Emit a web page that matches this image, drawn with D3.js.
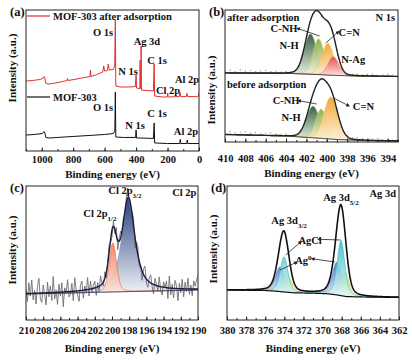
<!DOCTYPE html>
<html lang="en">
<head>
<meta charset="UTF-8">
<title>XPS spectra of MOF-303</title>
<style>
  body { margin: 0; background: #fff; }
  svg text { font-family: "Liberation Serif", serif; font-weight: bold; fill: #111; }
  .frame { fill: none; stroke: #222; stroke-width: 1; }
  .axis path { display: none; }
  .axis line { stroke: #222; }
  .axis text { font-size: 10.5px; }
  .lbl { font-size: 10.5px; }
  .title { font-size: 11px; }
  .tag { font-size: 12.5px; }
</style>
<script src="https://d3js.org/d3.v7.min.js"></script>
</head>
<body>
<script>
// ---- (a) survey spectra: binding energy (eV) / intensity (a.u.)
const surveyAfterBE = [1100,1060,1010,990,985,980,976,960,930,880,840,836,832,780,730,693,690,687,650,612,606,600,582,577,571,545,536,532,529,500,450,405,400,397,380,375.5,374.5,373,369,368,366,330,290,285,282,230,201,199,196,125,120,116,80,76,72,20,8,2,0];
const surveyAfterI = [49.6,50.0,50.7,51.8,52.8,52.1,48.2,47.5,47.9,48.9,50.0,51.4,50.0,51.0,52.1,52.8,57.4,52.8,54.2,56.0,60.3,56.7,57.1,61.7,57.4,57.8,60.3,92.9,46.1,45.4,45.4,45.7,53.9,44.7,44.3,44.3,64.5,44.7,44.3,74.4,43.2,42.9,42.5,61.7,39.0,38.3,38.3,41.1,38.3,38.6,41.5,38.6,38.6,40.8,38.6,38.6,38.3,39.7,41.8];
const surveyBeforeBE = [1100,1050,995,986,980,974,950,900,800,700,600,545,535,532,529,480,403,400,397,380,290,285,282,200,122,119,116,78,75,72,0];
const surveyBeforeI = [11.3,11.7,12.4,13.8,12.8,9.6,9.2,9.6,10.3,11.0,11.7,12.4,14.2,41.8,9.9,9.6,9.6,14.9,9.2,9.2,8.9,19.9,5.7,5.3,5.3,8.2,5.3,5.3,7.8,5.3,5.3];
const surveyAfterPeaks = ["O 1s", "Ag 3d", "N 1s", "C 1s", "Al 2p", "Cl 2p"];
const surveyAfterPeakBE = [610, 331, 451, 267, 76, 197];
const surveyAfterPeakI = [84.4, 78.0, 56.7, 64.5, 51.0, 43.2];
const surveyBeforePeaks = ["O 1s", "C 1s", "N 1s", "Al 2p"];
const surveyBeforePeakBE = [610, 267, 407, 83];
const surveyBeforePeakI = [31.2, 26.9, 18.4, 14.2];

// ---- (b) N 1s fits
const n1sNames = ["N-H", "C-NH", "C=N", "N-Ag"];
const n1sAfterCentre = [401.6, 400.8, 399.9, 399.35];
const n1sAfterHeight = [30.5, 27.0, 24.0, 14.0];
const n1sAfterFwhm = [1.45, 1.3, 1.35, 1.25];
const n1sAfterBgBE = [410, 403.5, 401, 399, 397, 393];
const n1sAfterBgI = [52.3, 51.9, 51.1, 50.4, 50.0, 49.6];
const n1sBeforeCentre = [401.35, 400.55, 399.6];
const n1sBeforeHeight = [23.9, 22.0, 31.8];
const n1sBeforeFwhm = [1.5, 1.3, 1.6];
const n1sBeforeBgBE = [410, 404, 401, 399, 396, 393];
const n1sBeforeBgI = [5.7, 4.5, 3.0, 1.9, 1.1, 0.8];
// raw-data residuals, 410 -> 393 eV every 0.5 eV
const n1sAfterResid = [1.5,2,1,2.5,1.5,2,1,1.5,2,1,1.5,0.5,1,0.5,0,0.5,-0.5,0.5,0,-0.5,0.5,0,0.5,-0.5,0,0.5,1,0.5,1,1.5,0.5,1,1.5,1,0.5];
const n1sBeforeResid = [2,2.5,1.5,2,2.5,1.5,2,1,1.5,2,1,0.5,1,0,0.5,0,-0.5,0.5,0,0.5,-0.5,0,0.5,0,0.5,1,1.5,1,0.5,1,1.5,0.5,1,0.5,1];

// ---- (c) Cl 2p fits
const cl2pNames = ["Cl 2p3/2", "Cl 2p1/2"];
const cl2pCentre = [198.1, 199.9];
const cl2pHeight = [69.8, 36.6];
const cl2pFwhm = [1.8, 1.0];
const cl2pEta = [0.8, 0.3];
const cl2pBgBE = [210, 190];
const cl2pBgI = [19.4, 22.4];
// raw-data residuals, 210 -> 190 eV evenly spaced
const cl2pResid = [3,-6,8,-2,10,-5,2,-8,5,11,-4,-7,6,-1,-9,8,-3,5,-6,12,-5,2,-9,6,-3,7,-11,3,-1,9,-4,-2,6,-7,10,1,-3,-8,4,7,-6,3,-2,9,-5,6,-3,2,5,-6,3,-4,7,1,-3,5,-4,2,6,-2,-5,4,-3,6,-7,2,5,-4,3,-8,4,7,-3,-6,2,5,-9,3,6,-4,1,-7,4,8,-3,-5,3,6,-2,-7,5,1,-4,7,-3,-6,4,0,5,-8,9,-5,3,-7,6,2,-9,4,-3,7,-6,5,-2,8,-4,3,-5,6,2,7,10];

// ---- (d) Ag 3d fits (3d3/2, 3d5/2 pairs)
const ag3dNames = ["Ag0", "other", "AgCl"];
const ag3dCentre = [[374.45, 368.5], [373.6, 367.65], [374.03, 368.07]];
const ag3dHeight = [[18.3, 24.3], [11.6, 17.5], [26.1, 41.0]];
const ag3dFwhm = [1.15, 1.0, 0.95];
const ag3dBgBE = [380, 376, 375, 374, 373, 371, 369.5, 368.5, 367.5, 366, 362];
const ag3dBgI = [22.4, 22.0, 21.6, 20.9, 20.3, 20.0, 19.6, 18.7, 17.5, 17.2, 16.8];

const W = 412, H = 361;
const svg = d3.select("body").append("svg").attr("width", W).attr("height", H);
const defs = svg.append("defs");
defs.append("marker").attr("id", "head").attr("viewBox", "0 0 6 6")
  .attr("refX", 1).attr("refY", 3).attr("markerWidth", 5).attr("markerHeight", 5)
  .attr("orient", "auto-start-reverse")
  .append("path").attr("d", "M0,0L6,3L0,6Z").attr("fill", "#222");

function pv(e, c, h, w, eta) {
  const t = 4 * (e - c) * (e - c) / (w * w);
  return h * (eta / (1 + t) + (1 - eta) * Math.exp(-Math.LN2 * t));
}

function panel(key, box, domX) {
  const x = d3.scaleLinear().domain(domX).range([box.x0, box.x1]);
  const y = d3.scaleLinear().domain([0, 100]).range([box.y1, box.y0]);
  defs.append("clipPath").attr("id", "clip-" + key).append("rect")
    .attr("x", box.x0).attr("y", box.y0).attr("width", box.x1 - box.x0).attr("height", box.y1 - box.y0);
  const plot = svg.append("g").attr("clip-path", `url(#clip-${key})`);
  return { x, y, plot, box };
}

function finish(P, tag, majors, minors, pad, yLabelY, titleY) {
  const b = P.box;
  svg.append("rect").attr("class", "frame")
    .attr("x", b.x0).attr("y", b.y0).attr("width", b.x1 - b.x0).attr("height", b.y1 - b.y0);
  svg.append("g").attr("class", "axis").attr("transform", `translate(0,${b.y1})`)
    .call(d3.axisBottom(P.x).tickValues(minors).tickSizeInner(-2).tickSizeOuter(0).tickFormat(""));
  svg.append("g").attr("class", "axis").attr("transform", `translate(0,${b.y1})`)
    .call(d3.axisBottom(P.x).tickValues(majors).tickSizeInner(-3.5).tickSizeOuter(0)
      .tickPadding(pad).tickFormat(d3.format("d")));
  svg.append("text").attr("class", "title").attr("text-anchor", "middle")
    .attr("x", (b.x0 + b.x1) / 2).attr("y", titleY).text("Binding energy (eV)");
  svg.append("text").attr("class", "title").attr("text-anchor", "middle")
    .attr("transform", `translate(${b.x0 - 10},${yLabelY}) rotate(-90)`).text("Intensity (a.u.)");
  svg.append("text").attr("class", "tag").attr("x", b.x0 - 16).attr("y", b.y0 + 6).text(tag);
}

function label(P, parts, be, v, anchor) {
  const t = P.plotText.append("text").attr("class", "lbl")
    .attr("text-anchor", anchor || "middle")
    .attr("x", P.x(be)).attr("y", P.y(v)).attr("dy", "0.35em");
  parts.forEach(p => {
    const s = t.append("tspan").text(p[0]);
    if (p[1] === "sub") s.attr("baseline-shift", "sub").attr("font-size", "7px");
    if (p[1] === "sup") s.attr("baseline-shift", "super").attr("font-size", "7px");
  });
}

function arrow(P, be0, v0, be1, v1) {
  P.plotText.append("line").attr("x1", P.x(be0)).attr("y1", P.y(v0))
    .attr("x2", P.x(be1)).attr("y2", P.y(v1))
    .attr("stroke", "#222").attr("stroke-width", 0.8).attr("marker-start", "url(#head)");
}

function gradient(id, top, bottom) {
  const g = defs.append("linearGradient").attr("id", id)
    .attr("x1", 0).attr("y1", 0).attr("x2", 0).attr("y2", 1);
  g.append("stop").attr("offset", "0%").attr("stop-color", top);
  g.append("stop").attr("offset", "100%").attr("stop-color", bottom);
}

function drawComp(P, grid, bg, f, gradId, stroke, opacity) {
  const area = d3.area().x(e => P.x(e)).y0(e => P.y(bg(e))).y1(e => P.y(bg(e) + f(e)));
  const line = d3.line().x(e => P.x(e)).y(e => P.y(bg(e) + f(e)));
  P.plot.append("path").datum(grid).attr("d", area)
    .attr("fill", `url(#${gradId})`).attr("fill-opacity", opacity);
  P.plot.append("path").datum(grid).attr("d", line)
    .attr("fill", "none").attr("stroke", stroke).attr("stroke-width", 0.8).attr("stroke-opacity", 0.8);
}

// ================= (a) =================
const A = panel("a", { x0: 26, x1: 199, y0: 10, y1: 151 }, [1100, 0]);
A.plotText = svg.append("g");
const surveyLine = d3.line().x(d => A.x(d[0])).y(d => A.y(d[1]));
A.plot.append("path").datum(d3.zip(surveyAfterBE, surveyAfterI)).attr("d", surveyLine)
  .attr("fill", "none").attr("stroke", "#e0312e").attr("stroke-width", 1);
A.plot.append("path").datum(d3.zip(surveyBeforeBE, surveyBeforeI)).attr("d", surveyLine)
  .attr("fill", "none").attr("stroke", "#111").attr("stroke-width", 1);
surveyAfterPeaks.forEach((t, i) => label(A, [[t]], surveyAfterPeakBE[i], surveyAfterPeakI[i]));
surveyBeforePeaks.forEach((t, i) => label(A, [[t]], surveyBeforePeakBE[i], surveyBeforePeakI[i]));
// legend
[["MOF-303 after adsorption", "#e0312e", 16], ["MOF-303", "#111", 97]].forEach(l => {
  svg.append("line").attr("x1", 27).attr("x2", 50).attr("y1", l[2]).attr("y2", l[2])
    .attr("stroke", l[1]).attr("stroke-width", 1.2);
  svg.append("text").attr("class", "lbl")
    .attr("x", 53).attr("y", l[2]).attr("dy", "0.35em").text(l[0]);
});
finish(A, "(a)", d3.range(0, 1001, 200), d3.range(0, 1101, 100), 5, 68, 178);

// ================= (b) =================
const B = panel("b", { x0: 225, x1: 398, y0: 10, y1: 142 }, [410, 393]);
B.plotText = svg.append("g");
const gridB = d3.range(393, 410.001, 0.05);
const n1sColTop = ["#2c5a38", "#8cab43", "#f3a42a", "#e84a4c"];
const n1sColBot = ["#eef3ea", "#f3f6e4", "#fdf2dc", "#fde6e2"];
const n1sStroke = ["#6b9a72", "#b8cc6a", "#f6c060", "#f08080"];
n1sNames.forEach((n, i) => gradient("gb" + i, n1sColTop[i], n1sColBot[i]));

function n1sBlock(centre, height, fwhm, bgBE, bgI, resid) {
  const bg = d3.scaleLinear().domain(bgBE).range(bgI).clamp(true);
  const comps = centre.map((c, i) => e => pv(e, c, height[i], fwhm[i], 0.1));
  comps.forEach((f, i) => drawComp(B, gridB, bg, f, "gb" + i, n1sStroke[i], 0.95));
  const env = e => bg(e) + d3.sum(comps, f => f(e));
  const rawBE = resid.map((r, i) => 410 - i * 0.5);
  B.plot.selectAll(null).data(rawBE).enter().append("circle")
    .attr("cx", e => B.x(e)).attr("cy", (e, i) => B.y(env(e) + resid[i]))
    .attr("r", 0.7).attr("fill", "#999");
  B.plot.append("path").datum(gridB).attr("d", d3.line().x(e => B.x(e)).y(e => B.y(bg(e))))
    .attr("fill", "none").attr("stroke", "#222").attr("stroke-width", 1);
  B.plot.append("path").datum(gridB).attr("d", d3.line().x(e => B.x(e)).y(e => B.y(env(e))))
    .attr("fill", "none").attr("stroke", "#222").attr("stroke-width", 1.4);
}
n1sBlock(n1sAfterCentre, n1sAfterHeight, n1sAfterFwhm, n1sAfterBgBE, n1sAfterBgI, n1sAfterResid);
n1sBlock(n1sBeforeCentre, n1sBeforeHeight, n1sBeforeFwhm, n1sBeforeBgBE, n1sBeforeBgI, n1sBeforeResid);

svg.append("text").attr("class", "lbl").attr("x", 227).attr("y", 17).attr("dy", "0.35em").text("after adsorption");
svg.append("text").attr("class", "lbl").attr("x", 227).attr("y", 84).attr("dy", "0.35em").text("before adsorption");
svg.append("text").attr("class", "lbl").attr("x", 395).attr("y", 17).attr("dy", "0.35em").attr("text-anchor", "end").text("N 1s");
label(B, [["C-NH"]], 404.2, 86.4); label(B, [["N-H"]], 403.7, 73.5);
label(B, [["C=N"]], 397.8, 83.3); label(B, [["N-Ag"]], 397.4, 62.9);
arrow(B, 402.7, 85.6, 400.7, 80.3); arrow(B, 399.0, 82.6, 400.1, 75.0);
label(B, [["C-NH"]], 404.0, 31.8); label(B, [["N-H"]], 403.5, 18.9);
label(B, [["C=N"]], 396.4, 27.3);
arrow(B, 402.6, 31.1, 401.0, 28.8); arrow(B, 398.0, 28.0, 399.3, 33.3);
finish(B, "(b)", d3.range(394, 410.1, 2), d3.range(393, 410.1, 1), 13, 90, 177);

// ================= (c) =================
const C = panel("c", { x0: 26, x1: 198, y0: 186, y1: 320 }, [210, 190]);
C.plotText = svg.append("g");
const gridC = d3.range(190, 210.001, 0.05);
const bgC = d3.scaleLinear().domain(cl2pBgBE).range(cl2pBgI);
const compC = cl2pCentre.map((c, i) => e => pv(e, c, cl2pHeight[i], cl2pFwhm[i], cl2pEta[i]));
const envC = e => bgC(e) + d3.sum(compC, f => f(e));
const rawC = cl2pResid.map((r, i) => [210 - i * 20 / (cl2pResid.length - 1), r]);
gradient("gc0", "#1c3574", "#f0f3fa");
gradient("gc1", "#f07a5c", "#fde6de");
drawComp(C, gridC, bgC, compC[0], "gc0", "#5b8fd9", 0.95);
drawComp(C, gridC, bgC, compC[1], "gc1", "#f26a48", 0.9);
C.plot.append("path").datum(rawC)
  .attr("d", d3.line().x(d => C.x(d[0])).y(d => C.y(envC(d[0]) + d[1])))
  .attr("fill", "none").attr("stroke", "#6e6e6e").attr("stroke-width", 0.9);
C.plot.append("path").datum(gridC).attr("d", d3.line().x(e => C.x(e)).y(e => C.y(bgC(e))))
  .attr("fill", "none").attr("stroke", "#23234a").attr("stroke-width", 1);
C.plot.append("path").datum(gridC).attr("d", d3.line().x(e => C.x(e)).y(e => C.y(envC(e))))
  .attr("fill", "none").attr("stroke", "#1c1c40").attr("stroke-width", 1.4);
label(C, [["Cl 2p"], ["3/2", "sub"]], 198.5, 97);
label(C, [["Cl 2p"], ["1/2", "sub"]], 201.4, 79.9);
label(C, [["Cl 2p"]], 191.6, 95.5);
finish(C, "(c)", d3.range(190, 210.1, 2), d3.range(190, 210.1, 1), 7, 250, 352);

// ================= (d) =================
const D = panel("d", { x0: 227, x1: 399, y0: 186, y1: 320 }, [380, 362]);
D.plotText = svg.append("g");
const gridD = d3.range(362, 380.001, 0.05);
const bgD = d3.scaleLinear().domain(ag3dBgBE).range(ag3dBgI).clamp(true);
const agTop = ["#3262c8", "#e3da2e", "#2db8c0"];
const agBot = ["#eaf0fa", "#fbf9e0", "#e6f7f8"];
const agStroke = ["#4a78d8", "#d8d040", "#40c4c8"];
const compD = ag3dCentre.map((cs, i) => e => d3.sum(cs, (c, j) => pv(e, c, ag3dHeight[i][j], ag3dFwhm[i], 0.35)));
ag3dNames.forEach((n, i) => {
  gradient("gd" + i, agTop[i], agBot[i]);
  drawComp(D, gridD, bgD, compD[i], "gd" + i, agStroke[i], 0.85);
});
const envD = e => bgD(e) + d3.sum(compD, f => f(e));
D.plot.append("path").datum(gridD).attr("d", d3.line().x(e => D.x(e)).y(e => D.y(bgD(e))))
  .attr("fill", "none").attr("stroke", "#111").attr("stroke-width", 1.2);
D.plot.append("path").datum(gridD).attr("d", d3.line().x(e => D.x(e)).y(e => D.y(envD(e))))
  .attr("fill", "none").attr("stroke", "#111").attr("stroke-width", 1.6);
label(D, [["Ag 3d"], ["3/2", "sub"]], 373.5, 74.6);
label(D, [["Ag 3d"], ["5/2", "sub"]], 368.07, 91.8);
label(D, [["Ag 3d"]], 363.7, 94.8);
label(D, [["AgCl"]], 371.3, 59.7);
label(D, [["Ag"], ["0", "sup"]], 372.0, 44.8);
arrow(D, 370.2, 60.2, 368.1, 59.7); arrow(D, 372.4, 57.5, 373.85, 48.5);
arrow(D, 370.9, 45.5, 368.7, 43.3); arrow(D, 372.9, 42.5, 374.45, 37.3);
finish(D, "(d)", d3.range(362, 380.1, 2), d3.range(362, 380.1, 1), 7, 249, 352);
</script>
</body>
</html>
